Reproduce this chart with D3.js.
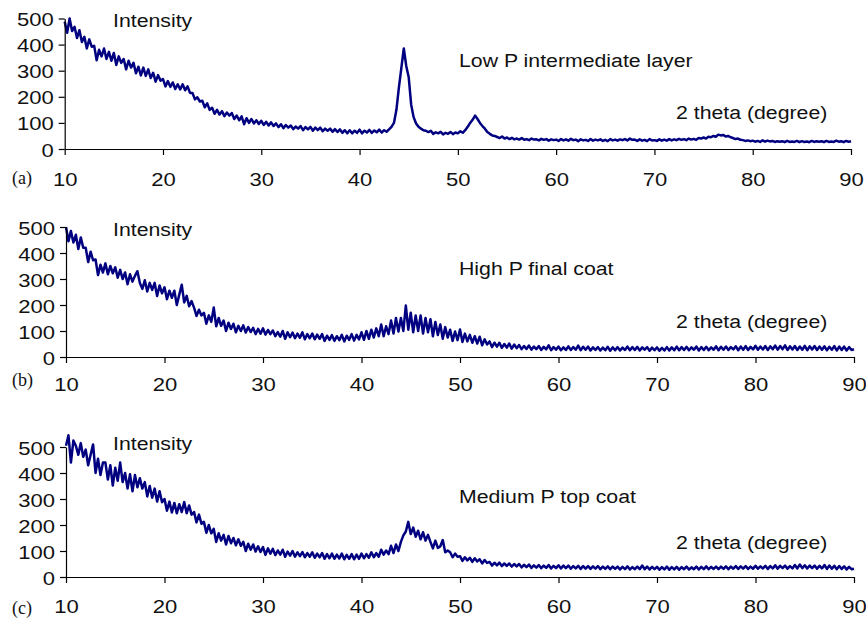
<!DOCTYPE html>
<html>
<head>
<meta charset="utf-8">
<script src="https://cdn.jsdelivr.net/npm/d3@7"></script>
<style>
    body { margin: 0; background: #fff; }
    svg { display: block; }
    .axis path, .axis line { stroke: #000; stroke-width: 1.2px; }
    .axis text { font-family: "Liberation Sans", Arial, sans-serif; font-size: 19px; fill: #111; }
    .lbl { font-family: "Liberation Sans", Arial, sans-serif; font-size: 19px; fill: #111; }
    .tag { font-family: "Liberation Serif", "Times New Roman", serif; font-size: 18px; fill: #111; }
</style>
</head>
<body>
<div id="chart"></div>
<script>
'use strict'

// 2 theta runs from 10 to 90 degrees in 0.25 degree steps
const thetaStart = 10;
const thetaStep = 0.25;
const xTicks = [10, 20, 30, 40, 50, 60, 70, 80, 90];
const yTicks = [0, 100, 200, 300, 400, 500];

// (a) Low P intermediate layer
const lowP = [
    488, 445, 500, 452, 468, 425, 455, 410, 430, 385, 420, 392, 395, 340, 380, 355,
    385, 345, 372, 338, 368, 322, 355, 330, 345, 305, 338, 312, 330, 290, 315, 282,
    312, 280, 305, 272, 292, 258, 283, 262, 268, 240, 260, 238, 255, 230, 248, 228,
    248, 225, 240, 215, 215, 190, 198, 182, 185, 160, 175, 150, 158, 135, 150, 132,
    145, 126, 140, 128, 138, 115, 128, 110, 125, 95, 118, 100, 115, 98, 110, 96,
    108, 92, 104, 90, 102, 88, 98, 84, 95, 80, 92, 82, 90, 76, 86, 78,
    88, 72, 84, 75, 85, 70, 82, 72, 82, 68, 78, 70, 78, 66, 76, 65,
    75, 62, 72, 60, 72, 60, 70, 62, 74, 60, 70, 63, 73, 62, 71, 64,
    74, 63, 72, 66, 75, 85, 100, 150, 235, 310, 385, 318, 275, 170, 122, 98,
    85, 78, 72, 70, 65, 70, 58, 64, 60, 66, 56, 62, 58, 65, 57, 63,
    60, 68, 62, 72, 85, 100, 112, 128, 115, 100, 88, 78, 65, 58, 52, 50,
    46, 42, 48, 40, 44, 38, 43, 37, 40, 36, 42, 35, 38, 34, 40, 36,
    37, 33, 39, 35, 38, 32, 37, 34, 36, 31, 38, 33, 37, 32, 39, 34,
    36, 30, 37, 33, 35, 31, 38, 32, 36, 33, 37, 31, 35, 30, 38, 33,
    36, 32, 37, 34, 38, 33, 40, 35, 36, 31, 37, 32, 35, 30, 38, 33,
    34, 31, 37, 32, 36, 32, 38, 33, 37, 34, 39, 35, 38, 34, 40, 36,
    39, 35, 42, 40, 44, 40, 47, 45, 50, 47, 55, 52, 54, 48, 50, 45,
    42, 38, 40, 35, 34, 31, 33, 30, 32, 28, 31, 27, 33, 28, 32, 29,
    31, 27, 30, 28, 30, 26, 31, 27, 29, 27, 31, 26, 30, 27, 29, 26,
    31, 27, 30, 28, 30, 26, 31, 27, 29, 27, 32, 28, 30, 26, 31, 28,
    30
];

// (b) High P final coat
const highP = [
    500, 445, 485, 440, 470, 415, 460, 420, 420, 365, 405, 372, 375, 315, 355, 325,
    360, 318, 350, 322, 345, 305, 335, 300, 325, 280, 318, 290, 312, 330, 285, 262,
    295, 252, 285, 258, 285, 235, 275, 245, 268, 222, 255, 228, 255, 200, 240, 278,
    210, 235, 195, 215, 190, 158, 182, 160, 170, 128, 160, 135, 190, 118, 150, 120,
    140, 100, 132, 108, 128, 95, 120, 100, 122, 94, 115, 96, 112, 88, 108, 90,
    110, 86, 104, 88, 102, 80, 96, 78, 100, 70, 95, 76, 94, 72, 90, 74,
    95, 68, 88, 72, 90, 68, 86, 70, 88, 62, 82, 66, 84, 62, 80, 65,
    85, 60, 82, 66, 88, 63, 85, 68, 95, 66, 100, 70, 105, 75, 110, 80,
    125, 80, 118, 88, 140, 90, 150, 98, 150, 100, 198, 105, 170, 95, 160, 100,
    160, 90, 150, 95, 145, 80, 135, 85, 125, 70, 115, 75, 105, 62, 98, 65,
    106, 58, 90, 60, 85, 55, 80, 52, 78, 45, 68, 48, 60, 38, 55, 40,
    55, 35, 50, 36, 52, 32, 48, 34, 46, 30, 42, 31, 44, 28, 40, 30,
    42, 27, 39, 29, 45, 26, 38, 28, 40, 26, 37, 27, 41, 27, 38, 28,
    44, 26, 39, 28, 40, 25, 37, 27, 38, 25, 36, 26, 39, 24, 37, 26,
    38, 25, 36, 27, 40, 26, 38, 27, 39, 25, 37, 28, 38, 24, 36, 26,
    37, 24, 35, 25, 38, 25, 37, 26, 40, 26, 38, 27, 39, 26, 37, 28,
    40, 25, 38, 27, 39, 26, 37, 28, 41, 26, 39, 28, 40, 27, 38, 29,
    41, 26, 40, 28, 42, 27, 39, 29, 43, 28, 40, 29, 42, 27, 41, 30,
    44, 28, 42, 30, 45, 27, 41, 29, 42, 27, 40, 28, 43, 26, 41, 29,
    42, 27, 40, 28, 41, 26, 39, 28, 42, 25, 40, 27, 40, 25, 38, 27,
    30
];

// (c) Medium P top coat
const medP = [
    505, 545, 440, 525, 505, 470, 515, 462, 490, 430, 470, 510, 400, 455, 392, 440,
    440, 375, 430, 352, 420, 370, 440, 365, 400, 340, 395, 330, 392, 345, 380, 340,
    365, 310, 350, 305, 340, 290, 330, 288, 300, 255, 290, 248, 285, 245, 280, 250,
    288, 245, 275, 240, 250, 210, 240, 205, 212, 170, 200, 168, 185, 135, 168, 140,
    162, 125, 158, 130, 150, 122, 145, 120, 135, 100, 128, 105, 125, 98, 118, 96,
    115, 85, 110, 90, 108, 84, 102, 86, 105, 78, 98, 82, 100, 78, 95, 80,
    96, 76, 92, 78, 95, 74, 90, 76, 92, 70, 88, 72, 90, 70, 86, 71,
    90, 68, 85, 70, 88, 68, 86, 70, 90, 72, 88, 74, 95, 76, 92, 78,
    105, 86, 102, 88, 120, 92, 125, 100, 135, 160, 175, 212, 165, 190, 155, 178,
    145, 172, 140, 162, 135, 110, 140, 112, 118, 142, 95, 102, 95, 76, 90, 78,
    80, 62, 76, 64, 74, 58, 72, 60, 68, 52, 65, 54, 58, 44, 55, 45,
    55, 42, 52, 43, 52, 40, 50, 41, 50, 37, 47, 38, 48, 35, 45, 36,
    46, 34, 44, 35, 46, 33, 43, 34, 45, 33, 44, 34, 44, 32, 42, 33,
    43, 31, 42, 32, 42, 31, 41, 32, 42, 30, 40, 31, 41, 30, 40, 31,
    40, 29, 39, 30, 41, 29, 38, 30, 40, 30, 44, 30, 40, 29, 39, 30,
    39, 28, 38, 29, 40, 28, 38, 29, 39, 28, 38, 30, 40, 29, 37, 30,
    40, 29, 39, 30, 41, 30, 39, 31, 40, 30, 40, 31, 41, 30, 40, 32,
    42, 31, 41, 32, 42, 31, 40, 32, 43, 32, 41, 33, 43, 31, 42, 33,
    45, 32, 43, 34, 44, 32, 42, 33, 46, 33, 48, 34, 45, 33, 44, 34,
    44, 32, 43, 33, 46, 31, 44, 32, 43, 30, 42, 31, 41, 29, 39, 30,
    32
];

const panelNames = ["Low P intermediate layer", "High P final coat", "Medium P top coat"];
const panelTags = ["(a)", "(b)", "(c)"];
const panelSeries = [lowP, highP, medP];

const width = 866;
const height = 621;
// the original lettering is a little wider than Liberation Sans
const textStretch = 1.12;
const tickStretch = 1.16;

// pixel frame of each panel: left/right of the x range, bottom/top of the y range
const frames = [
    { left: 64.7, right: 851, bottom: 149, top: 18.5, tickBase: 186, tagY: 184, intY: 27, nameY: 67, thetaY: 119 },
    { left: 66, right: 854, bottom: 357, top: 227, tickBase: 391, tagY: 386, intY: 236, nameY: 275, thetaY: 328 },
    { left: 66, right: 854, bottom: 577, top: 447, tickBase: 613, tagY: 614, intY: 450, nameY: 503, thetaY: 549 }
];

const svg = d3.select("#chart")
    .append("svg")
    .attr("width", width)
    .attr("height", height);

const line = d3.line();

function stretchTicks(sel, dy) {
    sel.selectAll("text").each(function () {
        const t = d3.select(this);
        const tx = +t.attr("x") || 0;
        const ty = dy === null ? (+t.attr("y") || 0) : dy;
        t.attr("x", 0).attr("y", 0).attr("dy", 0)
            .attr("transform", `translate(${tx},${ty}) scale(${tickStretch},1)`);
    });
}

function label(g, cls, x, y, txt, k) {
    g.append("text")
        .attr("class", cls)
        .attr("transform", `translate(${x},${y}) scale(${k},1)`)
        .text(txt);
}

frames.forEach((f, k) => {
    const x = d3.scaleLinear().domain([10, 90]).range([f.left, f.right]);
    const y = d3.scaleLinear().domain([0, 500]).range([f.bottom, f.top]);

    const g = svg.append("g");

    // trace
    const pts = panelSeries[k].map((v, i) => [x(thetaStart + i * thetaStep), y(v)]);
    g.append("path")
        .attr("d", line(pts))
        .attr("fill", "none")
        .attr("stroke", "#000080")
        .attr("stroke-width", 2.5)
        .attr("stroke-linejoin", "round");

    // X axis
    const xAxis = g.append("g")
        .attr("class", "axis")
        .attr("transform", `translate(0,${f.bottom})`)
        .call(d3.axisBottom(x).tickValues(xTicks).tickSize(6).tickSizeOuter(0));
    stretchTicks(xAxis, f.tickBase - f.bottom);

    // Y axis
    const yAxis = g.append("g")
        .attr("class", "axis")
        .attr("transform", `translate(${f.left},0)`)
        .call(d3.axisLeft(y).tickValues(yTicks).tickSize(6).tickSizeOuter(0).tickPadding(5));
    stretchTicks(yAxis, 7);

    // labels
    label(g, "lbl", 113, f.intY, "Intensity", textStretch);
    label(g, "lbl", 459, f.nameY, panelNames[k], textStretch);
    label(g, "lbl", 676, f.thetaY, "2 theta (degree)", textStretch);
    label(g, "tag", 12, f.tagY, panelTags[k], 1);
});
</script>
</body>
</html>
